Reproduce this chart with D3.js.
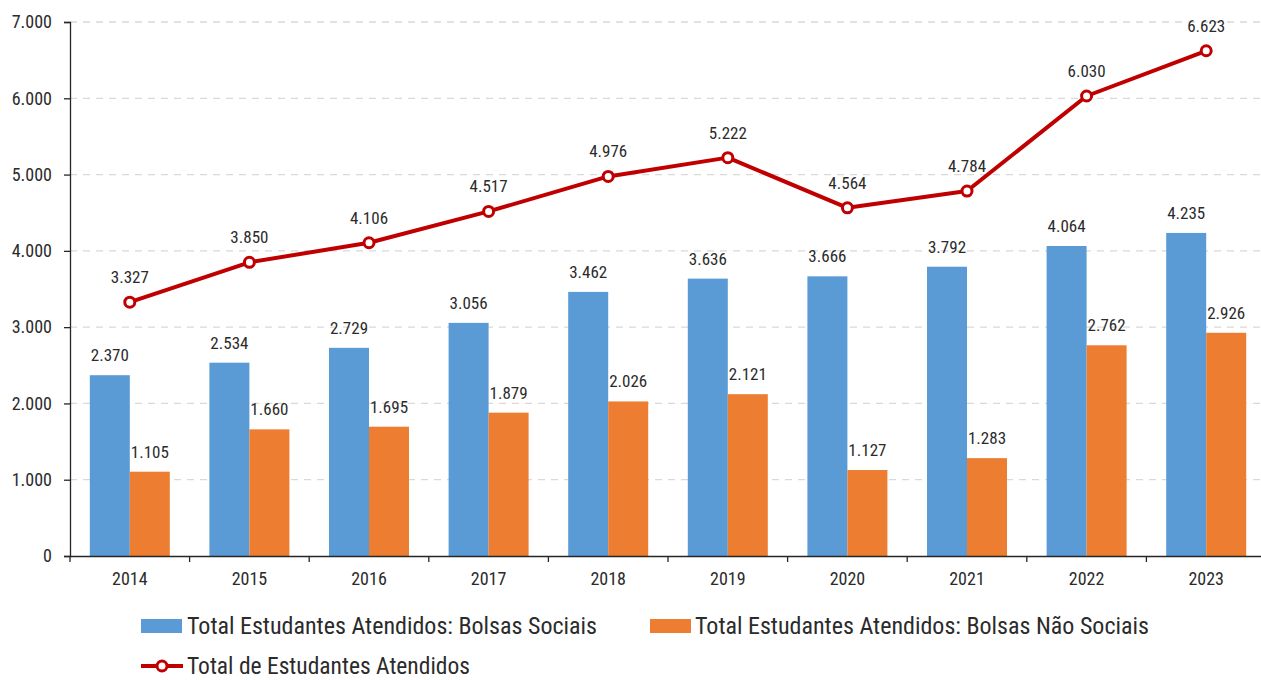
<!DOCTYPE html>
<html><head><meta charset="utf-8">
<script src="https://cdn.jsdelivr.net/npm/d3@7"></script>
<style>
body{margin:0;background:#fff;}
text{font-family:"Liberation Sans Narrow","Roboto Condensed","Arial Narrow",sans-serif;fill:#2b2b2b;}
</style></head><body>
<svg id="chart" width="1261" height="680"></svg>
<script>
const years = ["2014","2015","2016","2017","2018","2019","2020","2021","2022","2023"];
const sociais = [2370,2534,2729,3056,3462,3636,3666,3792,4064,4235];
const naoSociais = [1105,1660,1695,1879,2026,2121,1127,1283,2762,2926];
const total = [3327,3850,4106,4517,4976,5222,4564,4784,6030,6623];
const yTicks = [0,1000,2000,3000,4000,5000,6000,7000];
const seriesNames = ["Total Estudantes Atendidos: Bolsas Sociais","Total Estudantes Atendidos: Bolsas Não Sociais","Total de Estudantes Atendidos"];

const colors = {blue:"#5B9BD5", orange:"#ED7D31", red:"#C00000"};
const loc = d3.formatLocale({decimal:",", thousands:".", grouping:[3], currency:["R$",""]});
const fmt = loc.format(",d");

const svg = d3.select("#chart");
const mLeft = 70, mBottom = 556, mTop = 22, rightEdge = 1266;
const x = d3.scaleBand().domain(years).range([mLeft, rightEdge]).padding(0);
const y = d3.scaleLinear().domain([0,7000]).range([mBottom, mTop]);
const barW = 40;

// gridlines
svg.append("g").selectAll("line").data(yTicks.filter(d=>d>0)).join("line")
  .attr("x1", mLeft).attr("x2", 1261)
  .attr("y1", d=>y(d)).attr("y2", d=>y(d))
  .attr("stroke","#d9d9d9").attr("stroke-width",1.3).attr("stroke-dasharray","7,6");

// bars
const g = svg.append("g");
g.selectAll("rect.s").data(years).join("rect")
  .attr("x", d=>x(d)+x.bandwidth()/2-barW).attr("width", barW)
  .attr("y", (d,i)=>y(sociais[i])).attr("height",(d,i)=>y(0)-y(sociais[i]))
  .attr("fill", colors.blue);
g.selectAll("rect.n").data(years).join("rect")
  .attr("x", d=>x(d)+x.bandwidth()/2).attr("width", barW)
  .attr("y", (d,i)=>y(naoSociais[i])).attr("height",(d,i)=>y(0)-y(naoSociais[i]))
  .attr("fill", colors.orange);

// bar labels
g.selectAll("text.s").data(years).join("text")
  .attr("x", d=>x(d)+x.bandwidth()/2-barW/2).attr("y",(d,i)=>y(sociais[i])-14)
  .attr("text-anchor","middle").attr("font-size",17).text((d,i)=>fmt(sociais[i]));
g.selectAll("text.n").data(years).join("text")
  .attr("x", d=>x(d)+x.bandwidth()/2+barW/2).attr("y",(d,i)=>y(naoSociais[i])-14)
  .attr("text-anchor","middle").attr("font-size",17).text((d,i)=>fmt(naoSociais[i]));

// axes
const yAxis = svg.append("g").attr("transform",`translate(${mLeft},0)`)
  .call(d3.axisLeft(y).tickValues(yTicks).tickFormat(fmt).tickSize(6).tickPadding(12));
const xAxis = svg.append("g").attr("transform",`translate(0,${mBottom})`)
  .call(d3.axisBottom(x).tickSize(0).tickPadding(16));
xAxis.selectAll("line.bt").data(years).join("line").attr("class","bt")
  .attr("x1",d=>x(d)).attr("x2",d=>x(d)).attr("y1",0).attr("y2",6).attr("stroke","#262626").attr("stroke-width",1.3);
[yAxis,xAxis].forEach(a=>{
  a.select(".domain").attr("stroke","#262626").attr("stroke-width",1.3);
  a.selectAll(".tick line").attr("stroke","#262626").attr("stroke-width",1.3);
  a.selectAll(".tick text").attr("font-size",18).attr("fill","#2b2b2b")
   .attr("font-family",'"Liberation Sans Narrow","Roboto Condensed","Arial Narrow",sans-serif');
});
xAxis.select(".domain").attr("d",`M${mLeft},0.5H1261`);

// line
const cx = d=>x(d)+x.bandwidth()/2;
const line = d3.line().x((d,i)=>cx(years[i])).y(d=>y(d));
svg.append("path").datum(total).attr("d",line).attr("fill","none")
  .attr("stroke",colors.red).attr("stroke-width",4).attr("stroke-linejoin","round");
svg.append("g").selectAll("circle").data(total).join("circle")
  .attr("cx",(d,i)=>cx(years[i])).attr("cy",d=>y(d)).attr("r",5)
  .attr("fill","#fff").attr("stroke",colors.red).attr("stroke-width",3);
svg.append("g").selectAll("text").data(total).join("text")
  .attr("x",(d,i)=>cx(years[i])).attr("y",d=>y(d)-19)
  .attr("text-anchor","middle").attr("font-size",17).text(d=>fmt(d));

// legend
const lg = svg.append("g");
lg.append("rect").attr("x",141).attr("y",619).attr("width",41).attr("height",14).attr("fill",colors.blue);
lg.append("text").attr("x",187).attr("y",634).attr("font-size",24).text(seriesNames[0]);
lg.append("rect").attr("x",650).attr("y",619).attr("width",41).attr("height",14).attr("fill",colors.orange);
lg.append("text").attr("x",695).attr("y",634).attr("font-size",24).text(seriesNames[1]);
lg.append("line").attr("x1",141).attr("x2",183).attr("y1",666).attr("y2",666).attr("stroke",colors.red).attr("stroke-width",4);
lg.append("circle").attr("cx",162).attr("cy",666).attr("r",5).attr("fill","#fff").attr("stroke",colors.red).attr("stroke-width",3);
lg.append("text").attr("x",187).attr("y",674).attr("font-size",23.5).text(seriesNames[2]);
</script>
</body></html>
